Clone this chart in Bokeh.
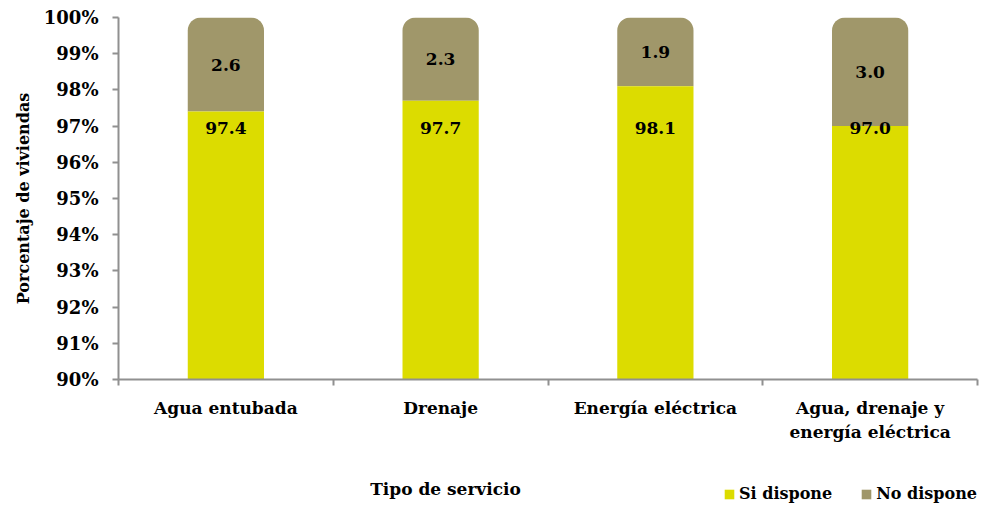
from bokeh.plotting import figure
from bokeh.layouts import column
from bokeh.models import ColumnDataSource, FixedTicker, Legend, LegendItem, Label
from bokeh.core.properties import value
from bokeh.embed import file_html
from bokeh.resources import INLINE

categories = ["Agua entubada", "Drenaje", "Energía eléctrica", "Agua, drenaje y\nenergía eléctrica"]
si_dispone = [97.4, 97.7, 98.1, 97.0]
no_dispone = [2.6, 2.3, 1.9, 3.0]
y_ticks = [90, 91, 92, 93, 94, 95, 96, 97, 98, 99, 100]
series_names = ["Si dispone", "No dispone"]

FONT = "DejaVu Serif"
YELLOW = "#dcdc00"
BROWN = "#a0976a"

n = len(categories)
xs = [i + 0.5 for i in range(n)]
tops = [s + q for s, q in zip(si_dispone, no_dispone)]
src = ColumnDataSource(dict(
    x=xs, si=si_dispone, no=no_dispone, top=tops,
    si_lbl=[f"{v:.1f}" for v in si_dispone],
    no_lbl=[f"{v:.1f}" for v in no_dispone],
    no_mid=[s + q / 2 for s, q in zip(si_dispone, no_dispone)],
    si_pos=[96.95] * n,
))

p = figure(width=996, height=444, x_range=(0, n), y_range=(90, 100),
           output_backend="svg", toolbar_location=None,
           min_border_left=118, min_border_right=19, min_border_top=17, min_border_bottom=65)
p.outline_line_color = None
p.grid.grid_line_color = None

r_no = p.vbar(x="x", bottom="si", top="top", width=0.355, source=src,
              fill_color=BROWN, line_color=None, border_radius=(13, 13, 0, 0))
r_si = p.vbar(x="x", bottom=90, top="si", width=0.355, source=src,
              fill_color=YELLOW, line_color=None)

p.text(x="x", y="no_mid", text="no_lbl", source=src, text_align="center", text_baseline="middle",
       text_font=value(FONT), text_font_style="bold", text_font_size="17px", text_color="black")
p.text(x="x", y="si_pos", text="si_lbl", source=src, text_align="center", text_baseline="middle",
       text_font=value(FONT), text_font_style="bold", text_font_size="17px", text_color="black")

# y axis
p.yaxis.ticker = FixedTicker(ticks=y_ticks)
p.yaxis.major_label_overrides = {t: f"{t}%" for t in y_ticks}
p.yaxis.axis_line_color = "#909090"
p.yaxis.axis_line_width = 2
p.yaxis.major_tick_line_color = "#909090"
p.yaxis.major_tick_line_width = 2
p.yaxis.major_tick_out = 6
p.yaxis.major_tick_in = 0
p.yaxis.minor_tick_line_color = None
p.yaxis.major_label_standoff = 14
p.yaxis.major_label_text_font = FONT
p.yaxis.major_label_text_font_style = "bold"
p.yaxis.major_label_text_font_size = "18px"
p.yaxis.major_label_text_color = "black"
p.yaxis.axis_label = "Porcentaje de viviendas"
p.yaxis.axis_label_text_font = FONT
p.yaxis.axis_label_text_font_style = "bold"
p.yaxis.axis_label_text_font_size = "16px"
p.yaxis.axis_label_standoff = 8
p.yaxis.axis_label_text_color = "black"

# x axis
p.xaxis.ticker = FixedTicker(ticks=xs, minor_ticks=list(range(n + 1)))
p.xaxis.major_label_overrides = {x: c for x, c in zip(xs, categories)}
p.xaxis.axis_line_color = "#909090"
p.xaxis.axis_line_width = 2
p.xaxis.major_tick_line_color = None
p.xaxis.minor_tick_line_color = "#909090"
p.xaxis.minor_tick_line_width = 2
p.xaxis.minor_tick_out = 6
p.xaxis.minor_tick_in = 0
p.xaxis.major_label_standoff = 12
p.xaxis.major_label_text_font = FONT
p.xaxis.major_label_text_font_style = "bold"
p.xaxis.major_label_text_font_size = "17px"
p.xaxis.major_label_text_color = "black"

# bottom strip: axis title and legend (frame aligned with the main plot)
p2 = figure(width=996, height=59, x_range=(0, 1), y_range=(0, 1),
            output_backend="svg", toolbar_location=None,
            min_border_left=118, min_border_right=19, min_border_top=0, min_border_bottom=0)
p2.axis.visible = False
p2.grid.grid_line_color = None
p2.outline_line_color = None
leg_src = ColumnDataSource(dict(x=[0.5], b=[0], t=[0]))
d_si = p2.vbar(x="x", bottom="b", top="t", width=0.01, source=leg_src, fill_color=YELLOW, line_color=None)
d_no = p2.vbar(x="x", bottom="b", top="t", width=0.01, source=leg_src, fill_color=BROWN, line_color=None)

p2.add_layout(Label(x=327, y=15, x_units="screen", y_units="screen", text="Tipo de servicio",
                    text_font=FONT, text_font_style="bold", text_font_size="17px",
                    text_align="center", text_baseline="middle", text_color="black"))

legend = Legend(items=[LegendItem(label=series_names[0], renderers=[d_si]),
                       LegendItem(label=series_names[1], renderers=[d_no])],
                orientation="horizontal", location=(605, 0),
                label_text_font=FONT, label_text_font_style="bold", label_text_font_size="16px",
                label_text_color="black", label_standoff=4,
                glyph_width=12, glyph_height=12, spacing=28, padding=0, margin=0,
                border_line_color=None, background_fill_alpha=0)
p2.add_layout(legend, "center")

layout = column(p, p2, spacing=0)
open("out.html", "w").write(file_html(layout, INLINE))
